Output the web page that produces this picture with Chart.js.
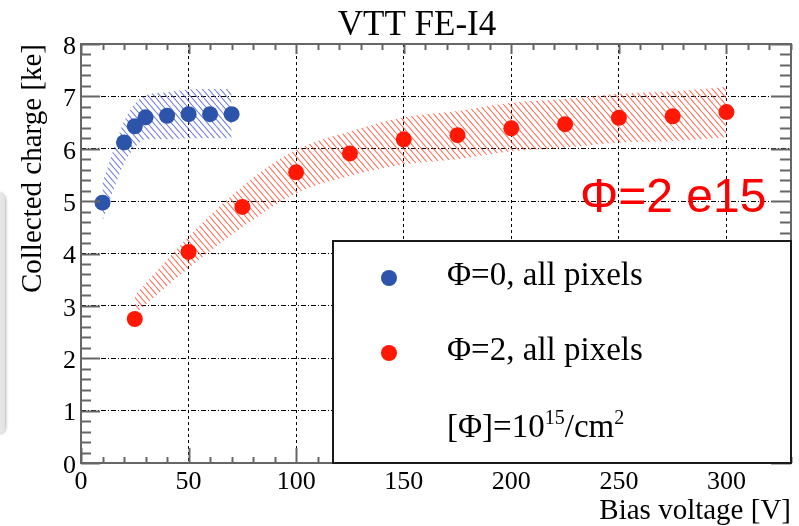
<!DOCTYPE html>
<html>
<head>
<meta charset="utf-8">
<script src="https://cdn.jsdelivr.net/npm/chart.js@4/dist/chart.umd.min.js"></script>
<style>
  html, body { margin: 0; padding: 0; background: #fff; }
  #wrap { position: relative; width: 799px; height: 526px; overflow: hidden; }
  #panel { position: absolute; left: -9px; top: 193px; width: 14px; height: 241px;
           border-radius: 9px; background: linear-gradient(to right, #f2f2f2, #e2e2e2);
           box-shadow: 1px 0 3px rgba(0,0,0,0.3); }
  canvas { position: absolute; left: 0; top: 0; }
</style>
</head>
<body>
<div id="wrap">
  <div id="panel"></div>
  <canvas id="c" width="799" height="526"></canvas>
</div>
<script>
// ---- data ----
const blueX     = [10, 20, 25, 30, 40, 50, 60, 70];
const blueY     = [4.97, 6.12, 6.43, 6.60, 6.63, 6.66, 6.66, 6.66];
const blueUpper = [5.35, 6.52, 6.86, 7.02, 7.08, 7.13, 7.14, 7.14];
const blueLower = [4.62, 5.72, 6.02, 6.18, 6.18, 6.20, 6.20, 6.20];

const redX      = [25, 50, 75, 100, 125, 150, 175, 200, 225, 250, 275, 300];
const redY      = [2.75, 4.03, 4.89, 5.55, 5.91, 6.18, 6.26, 6.39, 6.47, 6.59, 6.62, 6.70];
const redUpper  = [3.20, 4.32, 5.28, 5.98, 6.33, 6.60, 6.72, 6.88, 6.95, 7.05, 7.10, 7.18];
const redLower  = [2.85, 3.72, 4.50, 5.15, 5.48, 5.70, 5.80, 5.95, 6.02, 6.12, 6.15, 6.22];

const xTickStep = 50;
const yTickStep = 1;
const title = 'VTT FE-I4';
const xTitle = 'Bias voltage [V]';
const yTitle = 'Collected charge [ke]';
const legendLabels = ['\u03A6=0, all pixels', '\u03A6=2, all pixels'];
const annotation = '\u03A6=2 e15';

const BLUE = 'rgb(44,84,170)';
const RED = 'rgb(255,24,4)';

function pts(xs, ys) { return xs.map((x, i) => ({x: x, y: ys[i]})); }

function hatch(color) {
  const w = 6, h = 7;
  const c = document.createElement('canvas');
  c.width = w; c.height = h;
  const g = c.getContext('2d');
  g.strokeStyle = color; g.lineWidth = 1.1;
  g.beginPath();
  for (let k = -1; k <= 1; k++) { g.moveTo(k * w, 0); g.lineTo(k * w + w, h); }
  g.stroke();
  return g.createPattern(c, 'repeat');
}

const serif = '"Liberation Serif", "Times New Roman", serif';

const decor = {
  id: 'decor',
  afterDraw(chart) {
    const ctx = chart.ctx, a = chart.chartArea;
    const xs = chart.scales.x, ys = chart.scales.y;
    ctx.save();
    // tick marks (ROOT style, inside the frame)
    ctx.strokeStyle = '#666'; ctx.lineWidth = 2;
    ctx.beginPath();
    for (let i = 0; i <= 33; i++) {
      const px = Math.round(xs.getPixelForValue(i * 10)) + 0.5;
      const major = i % 5 === 0;
      ctx.moveTo(px, a.bottom); ctx.lineTo(px, a.bottom - (major ? 15 : 6));
      ctx.moveTo(px, a.top); ctx.lineTo(px, a.top + (major ? 10 : 6));
    }
    for (let i = 0; i <= 40; i++) {
      const py = Math.round(ys.getPixelForValue(i * 0.2)) + 0.5;
      const major = i % 5 === 0;
      ctx.moveTo(a.left, py); ctx.lineTo(a.left + (major ? 19 : 10), py);
      ctx.moveTo(a.right, py); ctx.lineTo(a.right - (major ? 20 : 11), py);
    }
    ctx.stroke();
    // frame
    ctx.strokeRect(a.left, a.top, a.right - a.left, a.bottom - a.top);

    // title
    ctx.fillStyle = '#000';
    ctx.font = '35px ' + serif;
    ctx.textAlign = 'center'; ctx.textBaseline = 'alphabetic';
    ctx.fillText(title, 417, 35);

    // annotation
    ctx.fillStyle = '#ff0000';
    ctx.font = '48px "Liberation Sans", Arial, sans-serif';
    ctx.textAlign = 'left';
    ctx.fillText(annotation, 580, 212);

    // legend box
    const L = 333, T = 241, R = a.right, B = a.bottom;
    ctx.fillStyle = '#fff';
    ctx.fillRect(L, T, R - L, B - T);
    ctx.strokeStyle = '#1a1a1a'; ctx.lineWidth = 2;
    ctx.strokeRect(L, T, R - L, B - T);
    const markColors = [BLUE, RED];
    const rowsY = [278, 353];
    for (let i = 0; i < 2; i++) {
      ctx.fillStyle = markColors[i];
      ctx.beginPath(); ctx.arc(389, rowsY[i], 8, 0, Math.PI * 2); ctx.fill();
      ctx.fillStyle = '#000';
      ctx.font = '33px ' + serif;
      ctx.fillText(legendLabels[i], 447, rowsY[i] + 7);
    }
    // [Φ]=10^15/cm^2
    let x = 447; const by = 437;
    const parts = [['[\u03A6]=10', 33, 0], ['15', 20, -13], ['/cm', 33, 0], ['2', 20, -13]];
    ctx.fillStyle = '#000';
    for (const [t, s, dy] of parts) {
      ctx.font = s + 'px ' + serif;
      ctx.fillText(t, x, by + dy);
      x += ctx.measureText(t).width;
    }
    ctx.restore();
  }
};

new Chart(document.getElementById('c'), {
  type: 'scatter',
  data: {
    datasets: [
      { label: legendLabels[0], data: pts(blueX, blueY), backgroundColor: BLUE, borderColor: BLUE,
        pointRadius: 8, pointHoverRadius: 8, borderWidth: 0, order: 0 },
      { label: legendLabels[1], data: pts(redX, redY), backgroundColor: RED, borderColor: RED,
        pointRadius: 8, pointHoverRadius: 8, borderWidth: 0, order: 0 },
      { type: 'line', label: 'band0 up', data: pts(blueX, blueUpper), showLine: true, fill: '+1',
        backgroundColor: hatch('rgba(60,80,205,0.75)'), borderWidth: 0, pointRadius: 0,
        cubicInterpolationMode: 'monotone', order: 5 },
      { type: 'line', label: 'band0 lo', data: pts(blueX, blueLower), showLine: true, fill: false,
        borderWidth: 0, pointRadius: 0, cubicInterpolationMode: 'monotone', order: 5 },
      { type: 'line', label: 'band2 up', data: pts(redX, redUpper), showLine: true, fill: '+1',
        backgroundColor: hatch('rgba(255,70,40,0.8)'), borderWidth: 0, pointRadius: 0,
        cubicInterpolationMode: 'monotone', order: 5 },
      { type: 'line', label: 'band2 lo', data: pts(redX, redLower), showLine: true, fill: false,
        borderWidth: 0, pointRadius: 0, cubicInterpolationMode: 'monotone', order: 5 }
    ]
  },
  options: {
    responsive: false,
    animation: false,
    devicePixelRatio: 1,
    layout: { padding: { left: 0, right: 7, top: 44, bottom: 0 } },
    plugins: { legend: { display: false }, tooltip: { enabled: false } },
    scales: {
      x: {
        type: 'linear', min: 0, max: 330,
        afterFit: s => { s.height = 63; },
        ticks: { stepSize: xTickStep, includeBounds: false, color: '#000', padding: 4,
                 font: { family: serif, size: 26 }, maxRotation: 0 },
        grid: { color: '#000', lineWidth: 1, drawTicks: false },
        border: { display: false, dash: [3, 3] },
        title: { display: true, text: xTitle, align: 'end', color: '#000', padding: 0,
                 font: { family: serif, size: 29, lineHeight: 1 } }
      },
      y: {
        type: 'linear', min: 0, max: 8,
        afterFit: s => { s.width = 81; },
        ticks: { stepSize: yTickStep, color: '#000', padding: 5, labelOffset: 3,
                 font: { family: serif, size: 26 } },
        grid: { color: '#000', lineWidth: 1, drawTicks: false },
        border: { display: false, dash: [5, 2, 1, 2] },
        title: { display: true, text: yTitle, align: 'end', color: '#000', padding: { top: 16, bottom: 0 },
                 font: { family: serif, size: 29, lineHeight: 1.2 } }
      }
    }
  },
  plugins: [decor]
});
</script>
</body>
</html>
